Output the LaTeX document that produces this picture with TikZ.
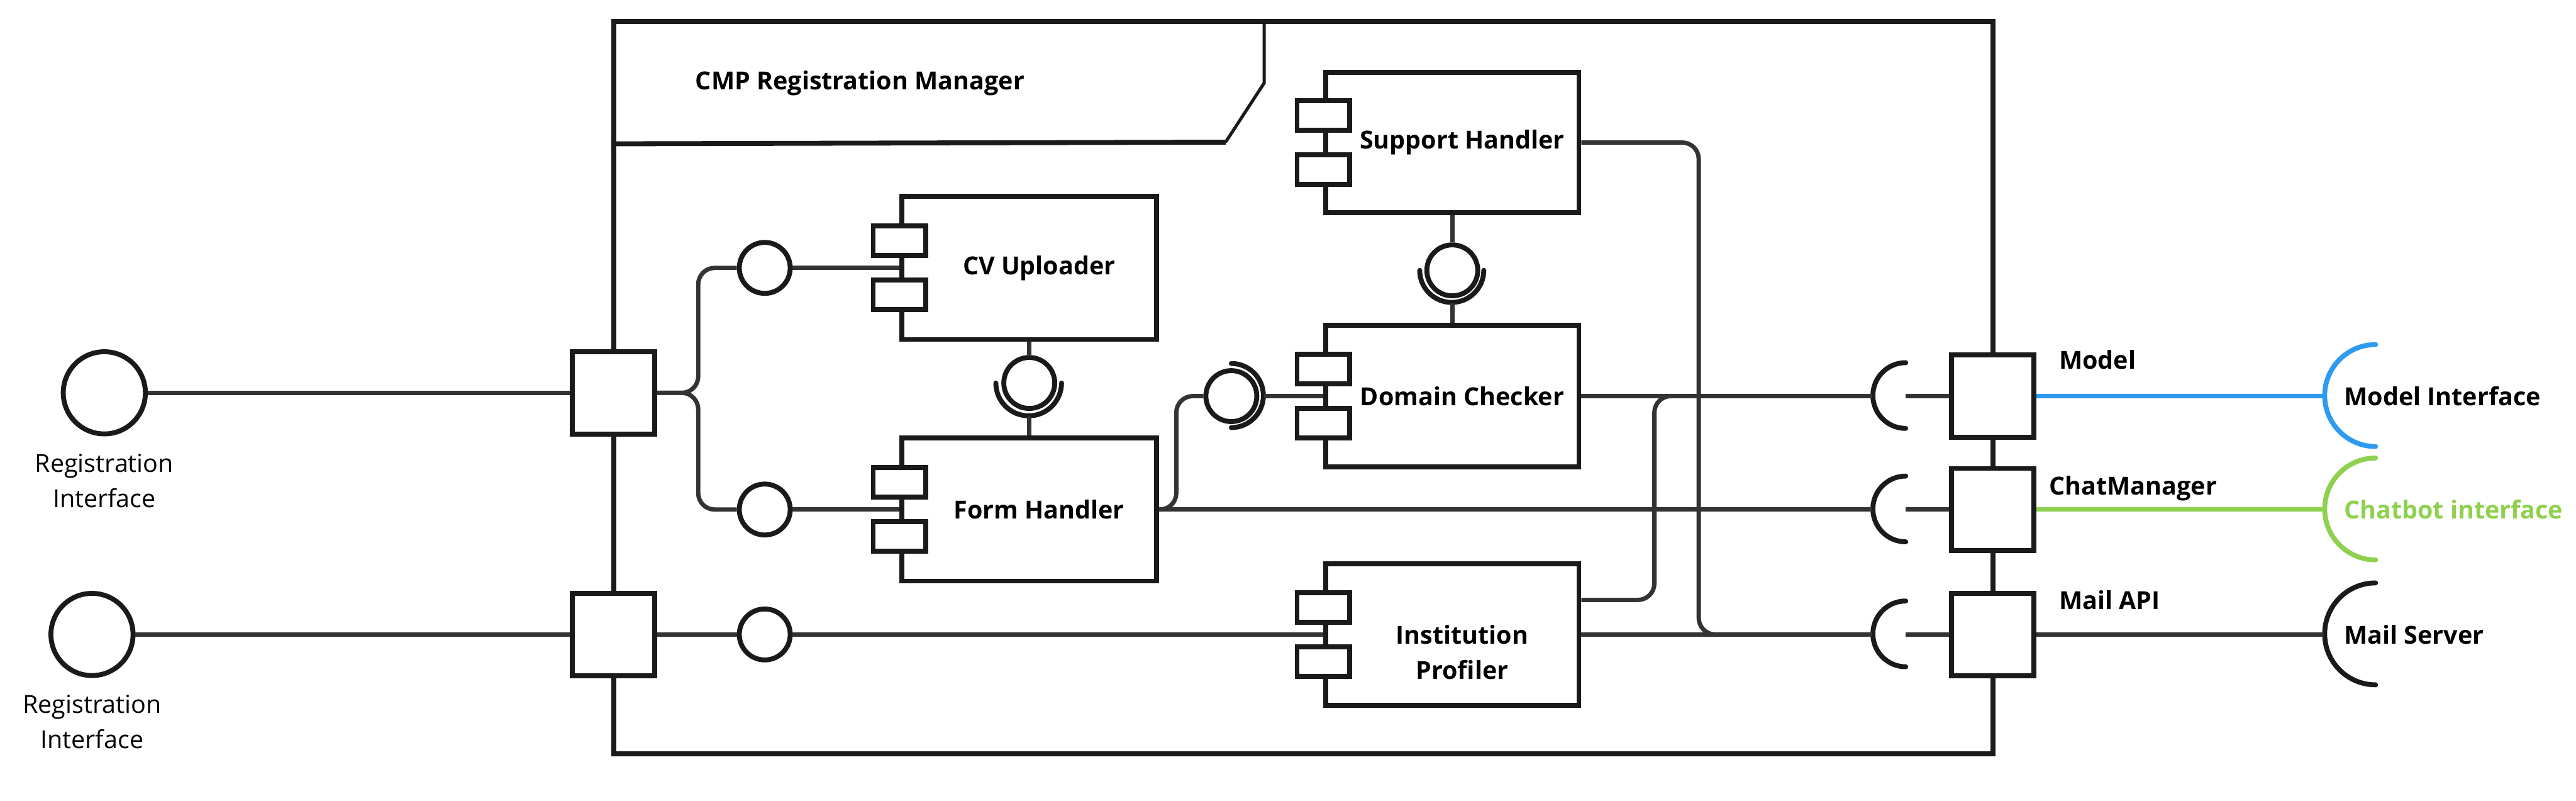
\documentclass[tikz,border=0pt]{standalone}
\usepackage{fontspec}
\setmainfont{Open Sans}
\usepackage{xcolor}
\usetikzlibrary{positioning,calc}
\definecolor{ink}{HTML}{1A1A1A}
\definecolor{wirecol}{HTML}{333333}
\definecolor{miroblue}{HTML}{2D9BF0}
\definecolor{mirogreen}{HTML}{8FD14F}

\begin{document}
\begin{tikzpicture}[
  font=\fontsize{8.6}{12.2}\selectfont,
  comp/.style={draw=ink,line width=1.7pt,fill=white,rectangle,minimum width=3.08cm,minimum height=1.72cm,inner sep=0pt},
  comptab/.style={draw=ink,line width=1.7pt,fill=white,rectangle,minimum width=0.64cm,minimum height=0.36cm,inner sep=0pt},
  port/.style={draw=ink,line width=1.7pt,fill=white,rectangle,minimum size=1cm,inner sep=0pt},
  lolli/.style={draw=ink,line width=1.7pt,fill=white,circle,minimum size=0.62cm,inner sep=0pt},
  iface/.style={draw=ink,line width=1.7pt,fill=white,circle,minimum size=1cm,inner sep=0pt},
  sock/.style={circle,minimum size=0.8cm,inner sep=0pt},
  extif/.style={circle,minimum size=1.24cm,inner sep=0pt},
  conn/.style={draw=wirecol,line width=1.5pt},
  arcline/.style={draw=ink,line width=1.7pt,line cap=round},
  lbl/.style={font=\fontsize{8.6}{12.2}\selectfont\bfseries},
  side/.style={lbl,anchor=west,inner xsep=0pt}
]
\useasboundingbox (0,0) rectangle (31.36,9.74);

% Manager frame and its name tab
\node[draw=ink,line width=1.7pt,minimum width=16.79cm,minimum height=8.912cm,inner sep=0pt] (mgr) at (15.865,5.024) {};
\draw[ink,line width=1.7pt] (mgr.west |- 0,7.99) -- (14.92,8.01);
\draw[ink,line width=1.1pt] (14.92,8.01) -- (15.39,8.73) -- (15.39,9.48);
\node[side] (title) at (8.46,8.73) {CMP Registration Manager};

% Registration interfaces (left)
\node[iface] (regA) at (1.27,4.96) {};
\node[align=center] (regAtxt) at (1.27,3.886) {Registration\\Interface};
\node[iface] (regB) at (1.12,2.02) {};
\node[align=center] (regBtxt) at (1.12,0.953) {Registration\\Interface};

% Ports
\node[port] (pA) at (7.47,4.96) {};
\node[port] (pB) at (7.47,2.02) {};
\node[port] (pM) at (24.26,4.92) {};
\node[port] (pC) at (24.26,3.54) {};
\node[port] (pS) at (24.26,2.02) {};
\node[side] (pMtxt) at (25.06,5.36) {Model};
\node[side] (pCtxt) at (24.94,3.80) {ChatManager};
\node[side] (pStxt) at (25.06,2.44) {Mail API};

% Provided interfaces inside
\node[lolli] (bCv) at (9.31,6.48) {};
\node[lolli] (bForm) at (9.31,3.54) {};
\node[lolli] (bInst) at (9.31,2.02) {};

% Components
\node[comp,minimum width=3.10cm,minimum height=1.74cm,label={[lbl,xshift=1.2mm]center:CV Uploader}] (cv) at (12.53,6.48) {};
\node[comp,minimum width=3.10cm,minimum height=1.74cm,label={[lbl,xshift=1.2mm]center:Form Handler}] (form) at (12.53,3.54) {};
\node[comp,minimum height=1.71cm,label={[lbl,xshift=1.2mm]center:Support Handler}] (sup) at (17.68,8.005) {};
\node[comp,label={[lbl,xshift=1.2mm]center:Domain Checker}] (dom) at (17.68,4.92) {};
\node[comp,label={[lbl,xshift=1.2mm,yshift=-2.2mm,align=center]center:Institution\\Profiler}] (inst) at (17.68,2.02) {};
\foreach \c in {cv,form,sup,dom,inst} {
  \node[comptab] (\c-t1) at ($(\c.west)+(0,0.33)$) {};
  \node[comptab] (\c-t2) at ($(\c.west)+(0,-0.33)$) {};
}

% Assembly connectors
\node[lolli] (aCv) at (12.53,5.08) {};
\node[sock] (aCvS) at (aCv) {};
\draw[arcline] (aCvS.west) arc (180:360:0.4);
\node[lolli] (aSup) at (17.68,6.45) {};
\node[sock,minimum size=0.78cm] (aSupS) at (aSup) {};
\draw[arcline] (aSupS.west) arc (180:360:0.39);
\node[lolli] (aFd) at (14.99,4.92) {};
\node[sock,minimum size=0.78cm] (aFdS) at (aFd) {};
\draw[arcline] (aFdS.north) arc (90:-90:0.39);

% Required sockets at the right ports
\node[sock] (sM) at (23.2,4.92) {};
\node[sock] (sC) at (23.2,3.54) {};
\node[sock] (sS) at (23.2,2.02) {};
\foreach \s in {sM,sC,sS} {
  \draw[arcline] (\s.north) arc (90:270:0.4);
}

% External interfaces
\node[extif] (xM) at (28.92,4.92) {};
\node[extif] (xC) at (28.92,3.54) {};
\node[extif] (xS) at (28.92,2.02) {};
\draw[miroblue,line width=1.7pt,line cap=round] (xM.north) arc (90:270:0.62);
\draw[mirogreen,line width=1.7pt,line cap=round] (xC.north) arc (90:270:0.62);
\draw[arcline] (xS.north) arc (90:270:0.62);
\node[side] (xMtxt) at (28.53,4.92) {Model Interface};
\node[side,text=mirogreen] (xCtxt) at (28.53,3.54) {Chatbot interface};
\node[side] (xStxt) at (28.53,2.02) {Mail Server};

% Bend columns
\coordinate (fork) at (8.50,0);
\coordinate (jog) at (14.32,0);
\coordinate (busI) at (20.14,0);
\coordinate (busS) at (20.68,0);

% Connections
\draw[conn] (regA) -- (pA);
\draw[conn] (regB) -- (pB);
\draw[conn,rounded corners=0.2cm] (pA.east) -| (fork |- bCv.west) -- (bCv.west);
\draw[conn,rounded corners=0.2cm] (pA.east) -| (fork |- bForm.west) -- (bForm.west);
\draw[conn] (bCv) -- (cv);
\draw[conn] (bForm) -- (form);
\draw[conn] (pB) -- (bInst);
\draw[conn] (bInst) -- (inst);
\draw[conn] (cv.south) -- (aCv.north);
\draw[conn] (aCvS.south) -- (form.north);
\draw[conn] (sup.south) -- (aSup.north);
\draw[conn] (aSupS.south) -- (dom.north);
\draw[conn,rounded corners=0.2cm] (form.east) -- (form.east -| jog) |- (aFd.west);
\draw[conn] (aFdS.east) -- (dom.west);
\draw[conn] (form.east) -- (sC.west);
\draw[conn] (dom.east) -- (sM.west);
\draw[conn,rounded corners=0.2cm] ([yshift=0.42cm]inst.east) -| (busI |- dom.east) -- (sM.west);
\draw[conn] (inst.east) -- (sS.west);
\draw[conn,rounded corners=0.2cm] (sup.east) -| (busS |- inst.east) -- (sS.west);
\foreach \s/\p in {sM/pM,sC/pC,sS/pS} {
  \draw[conn] (\s.center) -- (\p.west);
}
\draw[conn,draw=miroblue] (pM) -- (xM.west);
\draw[conn,draw=mirogreen] (pC) -- (xC.west);
\draw[conn] (pS) -- (xS.west);

\end{tikzpicture}
\end{document}
